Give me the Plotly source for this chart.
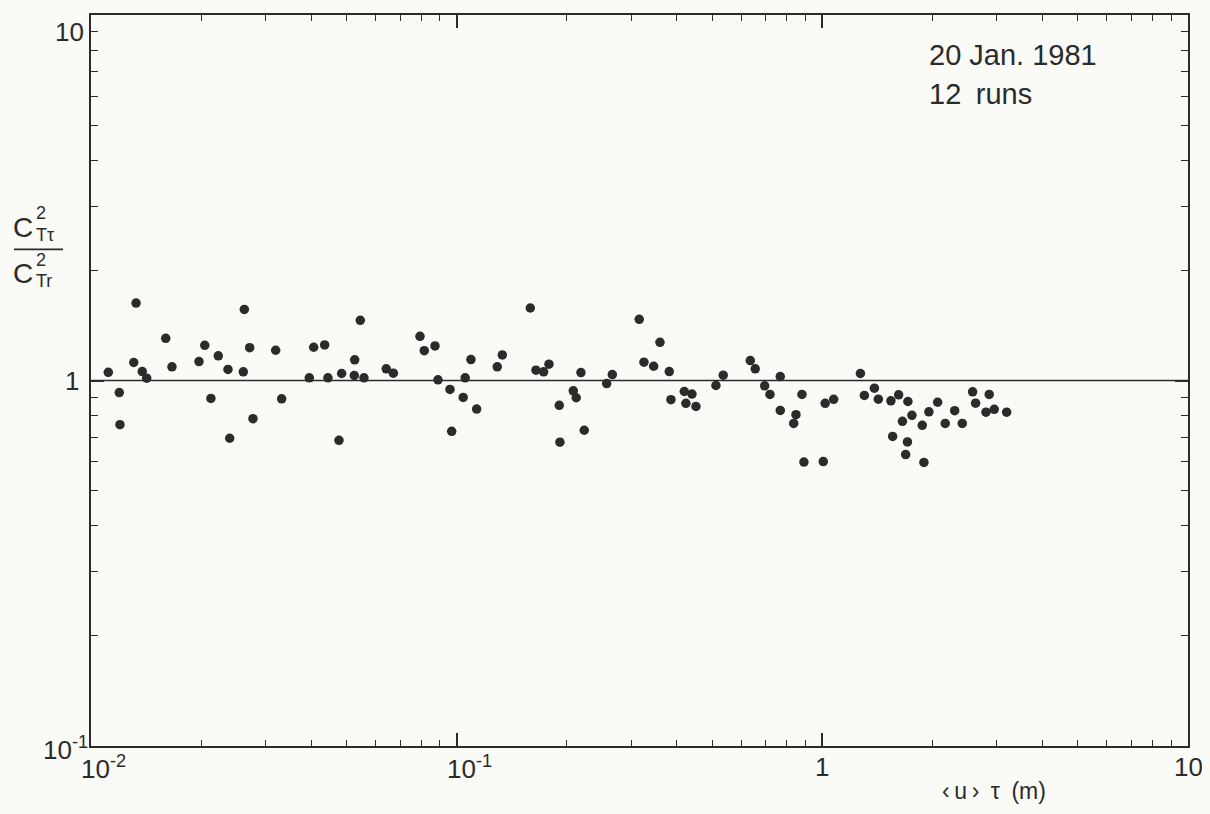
import math
import plotly.graph_objects as go

# ---- data (x = <u> tau in m, y = C2_T,tau / C2_T,r) ----
x_vals = [
    0.01115, 0.01195, 0.0120, 0.01328, 0.01309, 0.01381, 0.01420, 0.01601, 0.01665, 0.01974,
    0.02047, 0.02128, 0.02229, 0.02369, 0.02395, 0.02609, 0.02626, 0.02716, 0.02773, 0.03199,
    0.03322, 0.03954, 0.04064, 0.04355, 0.04446, 0.04766, 0.04847, 0.05248, 0.05262, 0.05450,
    0.05578, 0.06419, 0.06711, 0.07937, 0.08155, 0.08724, 0.08890, 0.09588, 0.09690, 0.1042,
    0.1055, 0.1094, 0.1134, 0.1291, 0.1333, 0.1590, 0.1648, 0.1729, 0.1788, 0.1908,
    0.1916, 0.2084, 0.2123, 0.2187, 0.2233, 0.2572, 0.2665, 0.3157, 0.3252, 0.3457,
    0.3597, 0.3814, 0.3855, 0.4193, 0.4400, 0.4236, 0.4512, 0.5117, 0.5358, 0.6353,
    0.6554, 0.6955, 0.7191, 0.7673, 0.7673, 0.8796, 0.8470, 0.8349, 0.8905, 1.006,
    1.018, 1.074, 1.271, 1.303, 1.388, 1.423, 1.540, 1.617, 1.714, 1.656,
    1.557, 1.709, 1.690, 1.758, 1.896, 1.876, 1.956, 2.067, 2.168, 2.301,
    2.414, 2.576, 2.625, 2.802, 2.860, 2.952, 3.192,
]
y_vals = [
    1.053, 0.927, 0.757, 1.629, 1.120, 1.058, 1.015, 1.304, 1.090, 1.127,
    1.248, 0.893, 1.168, 1.072, 0.695, 1.056, 1.565, 1.230, 0.786, 1.210,
    0.891, 1.017, 1.233, 1.251, 1.017, 0.686, 1.045, 1.032, 1.139, 1.461,
    1.017, 1.076, 1.047, 1.321, 1.207, 1.243, 1.004, 0.945, 0.726, 0.899,
    1.017, 1.141, 0.835, 1.090, 1.175, 1.579, 1.067, 1.056, 1.108, 0.855,
    0.678, 0.937, 0.897, 1.051, 0.731, 0.981, 1.038, 1.470, 1.122, 1.094,
    1.272, 1.058, 0.886, 0.933, 0.918, 0.866, 0.849, 0.969, 1.034, 1.134,
    1.076, 0.967, 0.916, 1.025, 0.828, 0.916, 0.806, 0.763, 0.598, 0.600,
    0.866, 0.888, 1.045, 0.910, 0.953, 0.889, 0.880, 0.914, 0.876, 0.773,
    0.703, 0.679, 0.627, 0.803, 0.597, 0.754, 0.821, 0.872, 0.763, 0.827,
    0.763, 0.931, 0.867, 0.819, 0.916, 0.834, 0.819,
]

reference_level = 1.0

x_major = [0.01, 0.1, 1, 10]
x_tick_text = ["10<sup>-2</sup>", "10<sup>-1</sup>", "1", "10"]
y_major = [0.1, 1, 10]
y_tick_text = ["10<sup>-1</sup>", "1", "10"]
x_minor = [m * 10.0 ** e for e in (-2, -1, 0) for m in range(2, 10)]
y_minor = [m * 10.0 ** e for e in (-1, 0) for m in range(2, 10)]

annotation_lines = ["20 Jan. 1981", "12\u2002runs"]
x_title = "‹\u2009u\u2009›\u2002τ\u2002(m)"

# ---- styling ----
INK = "#2b2b2b"
PAPER = "#fafaf7"
FONT = "Liberation Sans"
OFF = 8                      # page body margin of the html page
W, H = 1210 - 2 * OFF, 814 - 2 * OFF
L, R, T, B = 91 - OFF, 22 - OFF, 13 - OFF, 68 - OFF
PW, PH = W - L - R, H - T - B


def px(xp):          # window pixel -> paper fraction
    return (xp - OFF - L) / PW


def py(yp):
    return (H - B - (yp - OFF)) / PH


fig = go.Figure()
fig.add_trace(go.Scatter(
    x=x_vals, y=y_vals, mode="markers",
    marker=dict(size=9.5, color=INK, line=dict(width=0)),
    hoverinfo="skip", showlegend=False,
))

fig.add_hline(y=reference_level, line=dict(color=INK, width=1.6))

axis_common = dict(
    type="log", showgrid=False, zeroline=False, showline=True,
    linecolor=INK, linewidth=2, mirror="ticks", ticks="inside",
    tickcolor=INK, tickwidth=1.6, showticklabels=False,
)
fig.update_xaxes(range=[-2, 1], tickmode="array", tickvals=x_major, ticklen=13,
                 minor=dict(tickmode="array", tickvals=x_minor, ticks="inside",
                            ticklen=6, tickcolor=INK, tickwidth=1.4),
                 **axis_common)
fig.update_yaxes(range=[-1, 1], tickmode="array", tickvals=y_major, ticklen=13,
                 minor=dict(tickmode="array", tickvals=y_minor, ticks="inside",
                            ticklen=7, tickcolor=INK, tickwidth=1.4),
                 **axis_common)

anns = []
# x tick labels (annotation x on log axes is given as log10 value)
for v, t in zip(x_major, x_tick_text):
    lv = math.log10(v)
    if "<sup>" in t:
        anns.append(dict(text=t, x=lv, xref="x", y=0, yref="paper", xanchor="left",
                         yanchor="top", xshift=-12, yshift=-3, showarrow=False,
                         font=dict(size=26, color=INK, family=FONT)))
    else:
        anns.append(dict(text=t, x=lv, xref="x", y=0, yref="paper", xanchor="center",
                         yanchor="top", xshift=0, yshift=-4, showarrow=False,
                         font=dict(size=26, color=INK, family=FONT)))
# y tick labels
y_label_shift = {0.1: (-1, -2), 1: (-10, 0), 10: (-5, -17)}
for v, t in zip(y_major, y_tick_text):
    xs, ys = y_label_shift[v]
    anns.append(dict(text=t, x=0, xref="paper", y=math.log10(v), yref="y",
                     xanchor="right", yanchor="middle", xshift=xs, yshift=ys,
                     showarrow=False, font=dict(size=26, color=INK, family=FONT)))

# x axis title
anns.append(dict(text=x_title, x=px(994), y=py(791), xref="paper", yref="paper",
                 xanchor="center", yanchor="middle", showarrow=False,
                 font=dict(size=23, color=INK, family=FONT)))

# in-plot annotation
for t, yy in zip(annotation_lines, (53, 92)):
    anns.append(dict(text=t, x=px(927), y=py(yy), xref="paper", yref="paper",
                     xanchor="left", yanchor="middle", showarrow=False,
                     font=dict(size=29, color=INK, family=FONT)))


# y axis title as a stacked fraction  C^2_{Tτ} / C^2_{Tr}
def piece(text, x, y, size, xanchor="left"):
    anns.append(dict(text=text, x=px(x), y=py(y), xref="paper", yref="paper",
                     xanchor=xanchor, yanchor="middle", showarrow=False,
                     font=dict(size=size, color=INK, family=FONT)))


piece("C", 23, 226, 28, "center")
piece("2", 34, 212, 18)
piece("Tτ", 34, 234, 18)
piece("C", 23, 272, 28, "center")
piece("2", 34, 259, 18)
piece("Tr", 34, 280, 18)
fig.add_shape(type="line", xref="paper", yref="paper", x0=px(14), x1=px(63),
              y0=py(248), y1=py(248), line=dict(color=INK, width=1.6))

fig.update_layout(
    width=W, height=H, margin=dict(l=L, r=R, t=T, b=B),
    paper_bgcolor=PAPER, plot_bgcolor=PAPER,
    annotations=anns, showlegend=False,
    font=dict(family=FONT, color=INK),
)

fig.write_html("out.html", post_script="document.body.style.background='#fafaf7';")
